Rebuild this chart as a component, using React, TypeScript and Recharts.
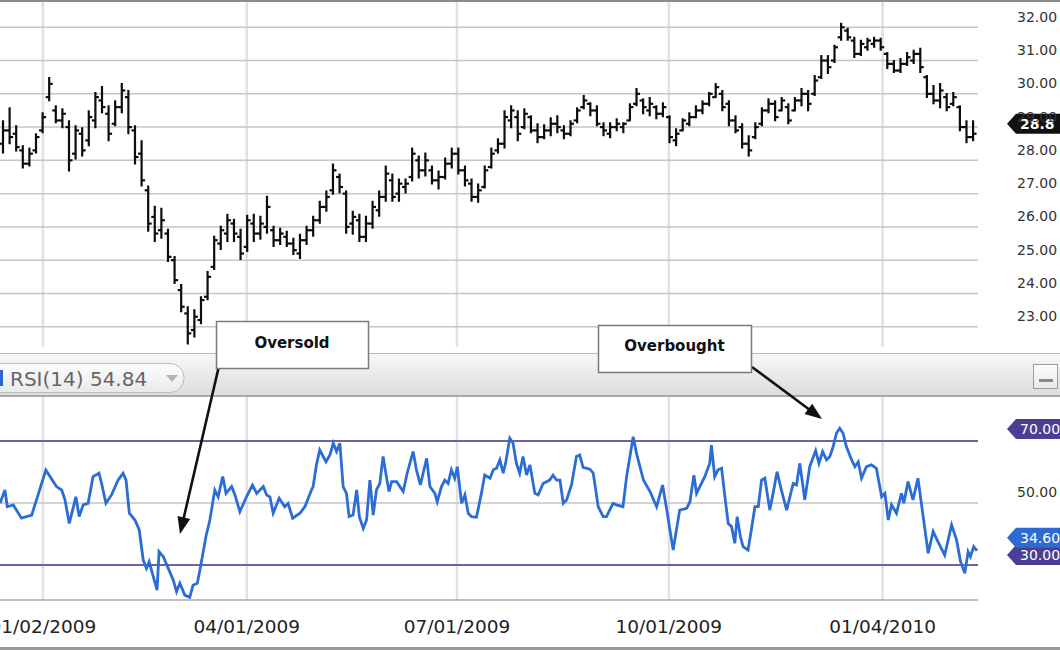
import React from 'react';
import { ComposedChart, Bar, XAxis, YAxis, CartesianGrid, ReferenceLine, LineChart, Line } from 'recharts';

const FONT = '"DejaVu Sans", Verdana, sans-serif';

// ---------- shared x axis (trading-day index, 0 = 01/02/2009) ----------
const dayDomain = [-13, 283.4];
const dateTicks = [0, 61.8, 125.5, 189.7, 254.5];
const dateLabels = ['01/02/2009', '04/01/2009', '07/01/2009', '10/01/2009', '01/04/2010'];

// ---------- price panel ----------
const priceDays = [-12,-10,-8,-6,-4,-2,0,2,4,6,8,10,12,14,16,18,20,22,24,26,28,30,32,34,36,38,40,42,44,46,48,50,52,54,56,58,60,62,64,66,68,70,72,74,76,78,80,82,84,86,88,90,92,94,96,98,100,102,104,106,108,110,112,114,116,118,120,122,124,126,128,130,132,134,136,138,140,142,144,146,148,150,152,154,156,158,160,162,164,166,168,170,172,174,176,178,180,182,184,186,188,190,192,194,196,198,200,202,204,206,208,210,212,214,216,218,220,222,224,226,228,230,232,234,236,238,240,242,244,246,248,250,252,254,256,258,260,262,264,266,268,270,272,274,276,278,280,282];
const priceHigh = [
  29.19,29.58,29.04,28.44,28.37,28.80,29.43,30.49,29.64,29.55,
  29.19,29.04,28.98,29.49,30.04,30.22,29.64,29.79,30.31,30.10,
  29.04,28.59,27.23,26.62,26.56,25.93,25.11,24.27,23.60,23.51,
  23.90,24.66,25.72,26.02,26.38,26.23,25.93,26.35,26.38,26.32,
  26.92,26.02,25.96,25.87,25.66,25.78,26.02,26.32,26.77,27.08,
  27.89,27.59,27.08,26.47,26.38,26.32,26.77,27.08,27.83,27.59,
  27.44,27.44,28.37,28.13,28.22,27.83,27.68,28.07,28.37,28.37,
  27.83,27.44,27.29,27.83,28.37,28.65,29.49,29.64,29.49,29.55,
  29.34,29.10,29.07,29.28,29.34,29.04,29.19,29.58,29.95,29.73,
  29.64,29.13,29.13,29.25,29.13,29.70,30.16,29.85,29.89,29.64,
  29.73,29.34,28.95,29.25,29.43,29.64,29.79,30.04,30.31,30.10,
  29.79,29.34,29.10,28.74,29.13,29.58,29.85,29.79,29.89,29.70,
  29.89,30.16,30.10,30.55,31.15,31.15,31.46,32.12,31.97,31.70,
  31.61,31.67,31.70,31.67,31.24,31.00,31.06,31.24,31.31,31.37,
  30.55,30.25,30.31,30.01,30.04,29.64,29.19,29.19
];
const priceLow = [
  28.22,28.50,28.28,27.77,27.83,28.22,28.83,29.79,29.13,28.98,
  27.68,28.04,28.13,28.44,28.98,29.43,28.59,29.04,29.43,28.80,
  27.89,27.23,25.87,25.56,25.66,24.96,24.30,23.45,22.48,22.69,
  23.09,23.81,24.72,25.32,25.56,25.56,25.02,25.26,25.56,25.63,
  25.81,25.41,25.47,25.41,25.17,25.05,25.47,25.72,26.11,26.47,
  26.98,27.02,25.81,25.78,25.56,25.56,25.96,26.32,26.77,26.77,
  26.77,27.02,27.38,27.47,27.53,27.29,27.14,27.44,27.77,27.59,
  27.23,26.77,26.74,27.17,27.77,28.22,28.37,28.98,28.59,28.95,
  28.83,28.53,28.65,28.74,28.83,28.65,28.74,29.13,29.55,29.34,
  29.04,28.74,28.68,28.89,28.83,29.19,29.64,29.40,29.34,29.25,
  29.31,28.53,28.44,28.89,29.04,29.28,29.40,29.64,29.89,29.49,
  29.04,28.83,28.37,28.13,28.65,29.04,29.43,29.19,29.49,29.10,
  29.49,29.64,29.49,29.95,30.46,30.61,30.94,31.61,31.61,31.09,
  31.15,31.31,31.40,31.31,30.76,30.64,30.64,30.85,30.91,30.64,
  29.89,29.70,29.58,29.49,29.64,28.89,28.53,28.59
];
const priceOpen = [
  28.5,28.9,28.8,28.3,27.9,28.3,28.9,29.9,29.5,29.2,
  29.0,28.2,28.8,28.6,29.2,29.8,29.4,29.1,29.6,29.9,
  28.9,28.2,27.1,26.3,25.9,25.8,25.0,24.1,23.4,22.9,
  23.2,23.9,24.8,25.5,25.8,26.1,25.7,25.4,26.1,25.8,
  26.0,25.9,25.6,25.7,25.5,25.2,25.6,25.9,26.2,26.6,
  27.1,27.5,27.0,26.1,26.2,25.7,26.1,26.5,26.9,27.4,
  27.0,27.2,27.5,28.0,27.7,27.7,27.4,27.5,27.9,28.2,
  27.7,27.3,26.9,27.2,27.8,28.3,28.5,29.2,29.3,29.0,
  29.3,28.9,28.7,28.9,29.1,28.9,28.8,29.2,29.6,29.7,
  29.5,29.0,28.8,29.0,29.0,29.2,29.7,29.8,29.5,29.6,
  29.4,29.3,28.6,28.9,29.1,29.3,29.5,29.7,29.9,30.0,
  29.7,29.2,29.0,28.5,28.7,29.1,29.5,29.7,29.5,29.6,
  29.5,29.8,30.0,30.0,30.5,31.0,31.0,31.7,31.9,31.6,
  31.2,31.4,31.5,31.6,31.2,30.9,30.7,30.9,31.0,31.2,
  30.5,30.0,29.8,29.9,29.7,29.6,29.0,28.7
];
const priceClose = [
  28.9,28.7,28.4,27.9,28.2,28.7,29.3,30.3,29.2,29.4,
  28.0,28.9,28.3,29.3,29.9,29.6,28.8,29.6,30.1,29.0,
  28.1,27.4,26.1,25.8,26.2,25.1,24.4,23.6,22.8,23.3,
  23.8,24.5,25.6,25.9,26.2,25.8,25.2,26.2,25.8,26.1,
  26.6,25.6,25.8,25.5,25.3,25.6,25.9,26.2,26.6,26.9,
  27.7,27.2,26.0,26.3,25.7,26.1,26.6,26.9,27.6,26.9,
  27.3,27.3,28.2,27.7,28.0,27.4,27.5,27.9,28.2,27.7,
  27.4,26.9,27.1,27.7,28.2,28.5,29.3,29.5,28.8,29.4,
  28.9,28.7,28.9,29.1,29.0,28.8,29.1,29.5,29.8,29.5,
  29.1,28.9,29.0,29.1,29.1,29.6,30.0,29.6,29.7,29.4,
  29.6,28.7,28.8,29.2,29.3,29.5,29.7,30.0,30.2,29.6,
  29.2,28.9,28.5,28.3,29.0,29.5,29.7,29.3,29.8,29.2,
  29.8,30.0,29.7,30.4,31.0,30.8,31.4,32.0,31.7,31.2,
  31.5,31.6,31.6,31.4,30.9,30.7,30.9,31.1,31.2,30.8,
  30.0,29.8,30.1,29.6,29.9,29.0,28.7,28.8
];
const priceTicks = [23, 24, 25, 26, 27, 28, 29, 30, 31, 32];
const priceDomain = [22.39, 32.76];
const lastPrice = 28.8;
const lastPriceLabel = '28.8';

// ---------- RSI panel ----------
const rsiDays = [
  -13.0,-11.5,-10.8,-9.0,-6.5,-3.4,0.9,4.1,5.7,6.7,8.0,9.0,10.0,11.0,12.2,13.7,15.2,17.0,17.8,19.1,
  20.8,22.8,24.3,25.2,26.2,27.9,29.2,30.4,31.4,32.2,33.6,34.6,35.2,36.5,38.0,39.5,40.5,41.5,43.0,44.5,
  45.5,46.8,47.6,49.4,50.6,52.1,53.1,54.5,55.5,57.2,58.2,59.7,61.7,63.5,64.8,66.8,67.8,68.8,69.8,71.6,
  73.3,74.3,75.7,77.9,79.4,81.4,81.9,82.9,83.9,85.8,87.0,88.0,89.0,90.0,91.0,92.0,92.8,94.0,95.1,95.9,
  97.1,98.1,99.1,100.1,101.1,102.1,103.1,104.1,104.9,105.7,107.2,109.2,110.4,112.2,113.2,114.4,116.3,117.3,118.8,119.5,
  120.8,121.8,122.8,123.8,124.8,125.6,126.9,127.9,128.9,129.9,131.4,132.9,133.9,135.5,136.5,137.5,138.5,139.5,140.3,141.5,
  142.5,143.5,144.5,145.5,146.6,147.6,149.1,150.1,151.6,153.6,154.6,155.7,156.7,157.7,158.7,160.2,161.7,162.7,163.7,165.8,
  166.8,168.3,169.8,170.8,172.8,173.8,175.8,176.9,178.9,179.9,182.0,184.0,186.0,187.8,189.0,191.0,193.0,195.1,196.1,197.3,
  198.1,200.6,202.1,202.6,203.6,204.6,205.7,206.7,207.7,208.7,209.7,210.4,211.4,212.2,213.7,214.7,215.8,216.8,217.8,218.8,
  220.3,221.3,222.5,223.8,225.4,227.4,228.4,229.4,230.9,232.4,234.2,235.2,236.3,237.5,238.5,239.5,240.5,241.5,242.5,243.5,
  245.1,246.1,247.1,248.1,249.6,251.1,252.6,254.2,255.2,256.2,257.2,258.7,260.2,260.9,262.2,263.7,265.2,266.3,268.3,269.8,
  271.0,273.3,275.4,276.9,278.1,279.4,280.4,281.1,282.1,283.1
];
const rsiValues = [
  49.9,54.2,48.8,49.4,45.1,46.1,60.6,55.3,54.2,51.0,43.4,47.7,52.0,45.6,49.4,49.9,58.5,59.6,56.3,49.9,
  52.6,57.4,59.6,57.4,46.7,44.5,41.3,31.6,28.9,31.1,25.7,21.9,34.3,32.7,28.9,25.2,21.4,24.1,20.3,19.6,
  23.5,24.1,28.4,39.1,44.5,54.2,52.0,58.5,53.1,55.3,52.6,47.2,52.0,55.8,53.1,55.3,52.6,52.0,46.7,51.5,
  48.8,49.9,45.1,46.7,48.8,54.2,55.3,62.3,67.1,63.3,65.5,69.3,66.6,69.3,55.3,53.1,45.6,46.1,54.2,45.6,
  41.8,44.5,57.4,46.1,54.2,56.3,65.0,58.5,53.7,56.9,56.9,53.7,59.6,66.6,60.7,55.8,64.4,55.3,53.1,50.4,
  55.3,57.4,56.3,60.7,58.0,61.7,49.9,52.6,46.7,45.6,45.4,53.1,59.0,58.0,60.7,61.2,63.9,59.6,63.3,70.9,
  69.3,62.8,59.6,65.0,59.0,62.3,53.1,52.6,56.3,57.4,59.0,57.4,57.4,49.9,51.0,55.8,65.0,65.5,61.5,60.9,
  59.6,48.8,45.6,45.6,49.9,49.4,48.8,58.5,71.4,66.0,57.4,53.7,48.8,55.8,48.3,34.8,47.7,48.3,50.4,59.0,
  53.1,58.5,62.8,68.7,58.5,60.7,61.2,52.0,43.4,42.4,37.0,45.6,39.1,35.9,34.8,41.3,48.8,48.8,57.4,58.0,
  47.7,53.1,60.1,54.2,47.7,56.3,55.8,62.8,51.0,61.7,66.9,62.8,66.6,63.9,65.0,68.2,72.5,74.1,72.5,68.2,
  63.9,61.7,63.3,58.0,61.7,62.3,61.2,52.0,53.1,44.5,49.4,46.7,53.1,49.9,56.9,51.0,58.0,49.4,33.8,40.8,
  38.1,33.2,42.9,38.1,31.1,27.3,34.3,32.7,35.9,34.6
];
const rsiDomain = [18.71, 84.19];
const rsiTicks = [50];
const rsiOverbought = 70;
const rsiOversold = 30;
const rsiLast = 34.6;
const rsiHeader = 'RSI(14) 54.84';

const priceData = priceDays.map((t, i) => ({
  t,
  range: [priceLow[i], priceHigh[i]],
  high: priceHigh[i],
  low: priceLow[i],
  open: priceOpen[i],
  close: priceClose[i],
}));
const rsiData = rsiDays.map((t, i) => ({ t, rsi: rsiValues[i] }));

function OhlcShape(props: any) {
  const { x, y, width, height, payload } = props;
  if (x == null || y == null || !payload) return null;
  const cx = x + width / 2;
  const top = Math.min(y, y + height);
  const h = Math.abs(height);
  const span = payload.high - payload.low || 1;
  const yO = top + ((payload.high - payload.open) / span) * h;
  const yC = top + ((payload.high - payload.close) / span) * h;
  return (
    <g stroke="#0d0d0d" strokeWidth={2.2}>
      <line x1={cx} x2={cx} y1={top - 0.5} y2={top + h + 0.5} />
      <line x1={cx - 3.5} x2={cx} y1={yO} y2={yO} />
      <line x1={cx} x2={cx + 3.5} y1={yC} y2={yC} />
    </g>
  );
}

function HiddenTick() {
  return <g />;
}

function ValueTick(props: any) {
  const { x, y, payload } = props;
  return (
    <text x={x} y={y} dy={-10.5} dominantBaseline="central" textAnchor="start" fontSize={14} fill="#333" fontFamily={FONT}>
      {Number(payload.value).toFixed(2)}
    </text>
  );
}

function makeTag(fill: string, text: string, bold: boolean, lift: number) {
  return (props: any) => {
    const vb = props && props.viewBox;
    if (!vb) return null;
    const tip = vb.x + vb.width + 29;
    const cy = vb.y - lift;
    return (
      <g>
        <path
          d={`M${tip},${cy} L${tip + 9},${cy - 10} L${tip + 80},${cy - 10} L${tip + 80},${cy + 10} L${tip + 9},${cy + 10} Z`}
          fill={fill}
        />
        <text x={tip + 13} y={cy} dominantBaseline="central" fill="#fff" fontSize={14} fontWeight={bold ? 700 : 400} fontFamily={FONT}>
          {text}
        </text>
      </g>
    );
  };
}

function Arrow({ x1, y1, x2, y2 }: { x1: number; y1: number; x2: number; y2: number }) {
  const dx = x2 - x1;
  const dy = y2 - y1;
  const len = Math.sqrt(dx * dx + dy * dy);
  const ux = dx / len;
  const uy = dy / len;
  const hl = 17;
  const hw = 6.5;
  const bx = x2 - ux * hl;
  const by = y2 - uy * hl;
  return (
    <g>
      <line x1={x1} y1={y1} x2={bx + ux * 2} y2={by + uy * 2} stroke="#111" strokeWidth={2.6} />
      <polygon points={`${x2},${y2} ${bx - uy * hw},${by + ux * hw} ${bx + uy * hw},${by - ux * hw}`} fill="#111" />
    </g>
  );
}

export default function App() {
  return (
    <div style={{ position: 'absolute', left: 0, top: 0, width: 1060, height: 650, overflow: 'hidden', background: '#fff', fontFamily: FONT }}>
      {/* price panel */}
      <div style={{ position: 'absolute', left: 0, top: 0 }}>
        <ComposedChart width={1060} height={347} data={priceData} margin={{ top: 2, right: 0, bottom: 0, left: 0 }}>
          <CartesianGrid horizontal={false} verticalValues={dateTicks} syncWithTicks stroke="#e1e1e1" strokeWidth={2.5} />
          <CartesianGrid vertical={false} horizontalValues={priceTicks} syncWithTicks stroke="#c6c6c6" strokeWidth={1.5} />
          <XAxis
            type="number"
            dataKey="t"
            domain={dayDomain}
            ticks={dateTicks}
            allowDataOverflow
            interval={0}
            height={0}
            tick={<HiddenTick />}
            axisLine={false}
            tickLine={false}
          />
          <YAxis
            orientation="right"
            type="number"
            width={82}
            domain={priceDomain}
            ticks={priceTicks}
            allowDataOverflow
            axisLine={false}
            tickLine={false}
            tickSize={0}
            tickMargin={39}
            tick={<ValueTick />}
            interval={0}
          />
          <Bar dataKey="range" barSize={4} shape={<OhlcShape />} isAnimationActive={false} />
          <ReferenceLine y={lastPrice} stroke="none" label={makeTag('#111', lastPriceLabel, true, 10)} />
        </ComposedChart>
      </div>

      {/* RSI panel */}
      <div style={{ position: 'absolute', left: 0, top: 397 }}>
        <LineChart width={1060} height={253} data={rsiData} margin={{ top: 0, right: 0, bottom: 0, left: 0 }}>
          <CartesianGrid horizontal={false} verticalValues={dateTicks} syncWithTicks stroke="#e1e1e1" strokeWidth={2.5} />
          <CartesianGrid vertical={false} horizontalValues={rsiTicks} syncWithTicks stroke="#c6c6c6" strokeWidth={1.5} />
          <XAxis
            type="number"
            dataKey="t"
            domain={dayDomain}
            ticks={dateTicks}
            allowDataOverflow
            interval={0}
            height={50}
            axisLine={{ stroke: '#a8a8a8', strokeWidth: 1.5 }}
            tickLine={false}
            tickSize={0}
            tickMargin={20}
            tick={{ fontSize: 18.5, fill: '#222', fontFamily: FONT }}
            tickFormatter={(v: number) => dateLabels[dateTicks.indexOf(v)] ?? ''}
          />
          <YAxis
            orientation="right"
            type="number"
            width={82}
            domain={rsiDomain}
            ticks={rsiTicks}
            allowDataOverflow
            axisLine={false}
            tickLine={false}
            tickSize={0}
            tickMargin={39}
            tick={<ValueTick />}
            interval={0}
          />
          <ReferenceLine y={rsiOverbought} stroke="#6b62a8" strokeWidth={2} label={makeTag('#4a3f94', rsiOverbought.toFixed(2), false, 12)} />
          <ReferenceLine y={rsiOversold} stroke="#6b62a8" strokeWidth={2} label={makeTag('#4a3f94', rsiOversold.toFixed(2), false, 10)} />
          <ReferenceLine y={rsiLast} stroke="none" label={makeTag('#2e6bd0', rsiLast.toFixed(2), false, 13)} />
          <Line type="linear" dataKey="rsi" stroke="#2b6dd4" strokeWidth={2.8} dot={false} isAnimationActive={false} />
        </LineChart>
      </div>

      {/* frame, header bar and annotations */}
      <svg width={1060} height={650} style={{ position: 'absolute', left: 0, top: 0, pointerEvents: 'none' }}>
        <defs>
          <linearGradient id="hdr" x1="0" y1="0" x2="0" y2="1">
            <stop offset="0" stopColor="#f8f8f8" />
            <stop offset="1" stopColor="#dcdcdc" />
          </linearGradient>
          <linearGradient id="pill" x1="0" y1="0" x2="0" y2="1">
            <stop offset="0" stopColor="#fdfdfd" />
            <stop offset="1" stopColor="#e9e9e9" />
          </linearGradient>
        </defs>
        <rect x={0} y={0} width={1060} height={2} fill="#8c8c8c" />
        <rect x={0} y={647} width={1060} height={3} fill="#9a9a9a" />

        <rect x={0} y={353} width={1060} height={43} fill="url(#hdr)" />
        <line x1={0} x2={1060} y1={353.5} y2={353.5} stroke="#b8b8b8" strokeWidth={1} />
        <line x1={0} x2={1060} y1={396} y2={396} stroke="#a9a9a9" strokeWidth={2} />

        <rect x={-14} y={363.5} width={198} height={29} rx={14} fill="url(#pill)" stroke="#bdbdbd" strokeWidth={1} />
        <rect x={0} y={370} width={3} height={16} fill="#2a6ad0" />
        <text x={10} y={378.5} dominantBaseline="central" fontSize={20} fill="#666" fontFamily={FONT}>{rsiHeader}</text>
        <polygon points="166,375 178,375 172,382" fill="#b3b3b3" />

        <rect x={1033.5} y={364.5} width={24} height={24} fill="url(#pill)" stroke="#9c9c9c" strokeWidth={1} />
        <rect x={1039} y={379} width={14} height={3} fill="#8a8a8a" />

        <Arrow x1={218.5} y1={368} x2={180} y2={534} />
        <Arrow x1={752} y1={367} x2={822} y2={419} />

        <rect x={216.5} y={321.5} width={152} height={47} fill="#fff" stroke="#7a7a7a" strokeWidth={1.5} />
        <text x={292} y={343} textAnchor="middle" dominantBaseline="central" fontSize={15} fontWeight={700} fill="#111" fontFamily={FONT}>Oversold</text>

        <rect x={598.5} y={325.5} width={153} height={47} fill="#fff" stroke="#7a7a7a" strokeWidth={1.5} />
        <text x={674.5} y={346} textAnchor="middle" dominantBaseline="central" fontSize={15} fontWeight={700} fill="#111" fontFamily={FONT}>Overbought</text>
      </svg>
    </div>
  );
}
